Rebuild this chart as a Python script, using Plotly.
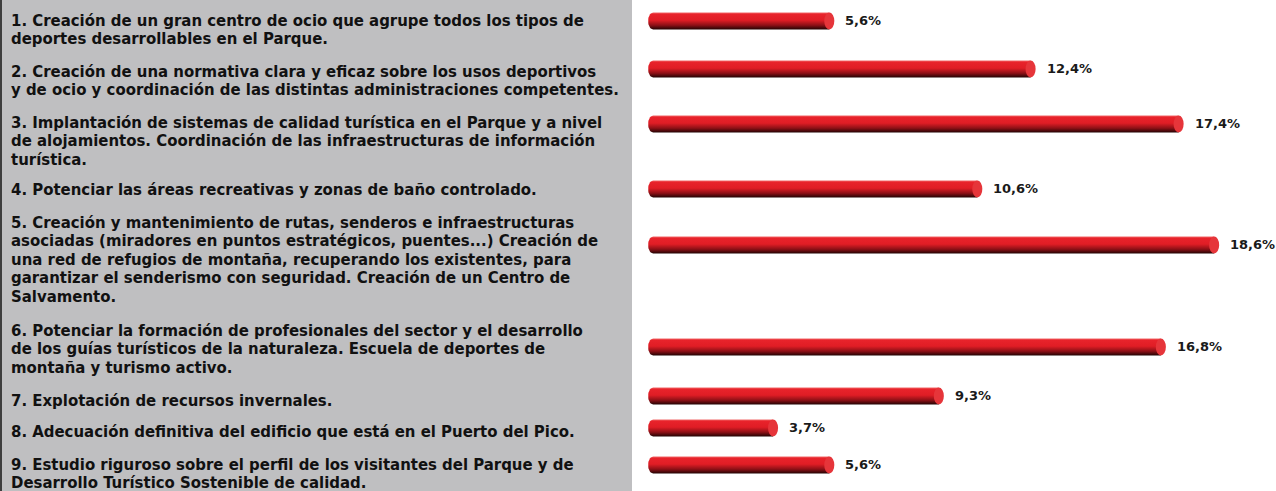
import numpy as np
import plotly.graph_objects as go

# ---------------- data ----------------
categories = [
    ["1. Creación de un gran centro de ocio que agrupe todos los tipos de",
     "deportes desarrollables en el Parque."],
    ["2. Creación de una normativa clara y eficaz sobre los usos deportivos",
     "y de ocio y coordinación de las distintas administraciones competentes."],
    ["3. Implantación de sistemas de calidad turística en el Parque y a nivel",
     "de alojamientos. Coordinación de las infraestructuras de información",
     "turística."],
    ["4. Potenciar las áreas recreativas y zonas de baño controlado."],
    ["5. Creación y mantenimiento de rutas, senderos e infraestructuras",
     "asociadas (miradores en puntos estratégicos, puentes...) Creación de",
     "una red de refugios de montaña, recuperando los existentes, para",
     "garantizar el senderismo con seguridad. Creación de un Centro de",
     "Salvamento."],
    ["6. Potenciar la formación de profesionales del sector y el desarrollo",
     "de los guías turísticos de la naturaleza. Escuela de deportes de",
     "montaña y turismo activo."],
    ["7. Explotación de recursos invernales."],
    ["8. Adecuación definitiva del edificio que está en el Puerto del Pico."],
    ["9. Estudio riguroso sobre el perfil de los visitantes del Parque y de",
     "Desarrollo Turístico Sostenible de calidad."],
]
values = [5.6, 12.4, 17.4, 10.6, 18.6, 16.8, 9.3, 3.7, 5.6]

# ---------------- layout (positions / styles) ----------------
W, H = 1276, 491
bar_rows = [21, 69, 124, 189, 245, 347, 396, 428, 465]        # bar centres (px rows)
label_rows = [20, 71, 122, 189, 222, 330, 400, 431, 464]      # first text line centre
line_gap = 18.5
bar_half = 8.5
cap_dx = 0.17          # half-width of the end ellipses in axis units
bar_base = -0.35       # visual start of the cylinders
x_range = [-0.794, 20.69]
panel_right = 632 / W

label_font = dict(family="DejaVu Sans Condensed, Liberation Sans Narrow, sans-serif",
                  size=16.6, color="#111111", weight="bold")
value_font = dict(family="DejaVu Sans, Verdana, sans-serif", size=13, color="#1a1a1a", weight="bold")

grad = [[0.0, "#f26a6a"], [0.1, "#e8232b"], [0.45, "#e01d25"],
        [0.75, "#8c1016"], [1.0, "#220303"]]

fig = go.Figure()
shapes = []
annotations = []

theta = np.linspace(np.pi / 2, 3 * np.pi / 2, 20)
for v, c in zip(values, bar_rows):
    xs = list(bar_base + cap_dx * np.cos(theta)) + [v, v, bar_base]
    ys = list(c - bar_half * np.sin(theta)) + [c + bar_half, c - bar_half, c - bar_half]
    fig.add_trace(go.Scatter(
        x=xs, y=ys, mode="lines", fill="toself", line=dict(width=0),
        fillgradient=dict(type="vertical", colorscale=grad,
                          start=c - bar_half, stop=c + bar_half),
        hoverinfo="skip", showlegend=False))
    shapes.append(dict(type="circle", xref="x", yref="y",
                       x0=v - cap_dx, x1=v + cap_dx, y0=c - bar_half, y1=c + bar_half,
                       fillcolor="#e6353a", line=dict(width=0), layer="above"))
    annotations.append(dict(x=v, y=c - 1, xref="x", yref="y", xanchor="left", yanchor="middle",
                            xshift=14, text=f"{v:.1f}".replace(".", ",") + "%",
                            showarrow=False, font=value_font))

for lines, y0 in zip(categories, label_rows):
    for i, t in enumerate(lines):
        annotations.append(dict(x=9 / W, y=y0 + i * line_gap, xref="paper", yref="y",
                                xanchor="left", yanchor="middle", text=t, showarrow=False,
                                font=label_font))

# grey label panel with dark left border
shapes.append(dict(type="rect", xref="paper", yref="paper", x0=0, x1=panel_right, y0=0, y1=1,
                   fillcolor="#bfbfc1", line=dict(width=0), layer="below"))
shapes.append(dict(type="rect", xref="paper", yref="paper", x0=0, x1=2 / W, y0=0, y1=1,
                   fillcolor="#3e3e3e", line=dict(width=0), layer="below"))

fig.update_layout(
    width=W, height=H, margin=dict(l=0, r=0, t=0, b=0),
    paper_bgcolor="white", plot_bgcolor="white",
    xaxis=dict(domain=[640 / W, 1], range=x_range, visible=False, fixedrange=True),
    yaxis=dict(range=[H, 0], visible=False, fixedrange=True),
    shapes=shapes, annotations=annotations, showlegend=False,
)

fig.write_html("out.html", config={"displayModeBar": False},
               post_script="document.body.style.margin='0';document.body.style.overflow='hidden';")
